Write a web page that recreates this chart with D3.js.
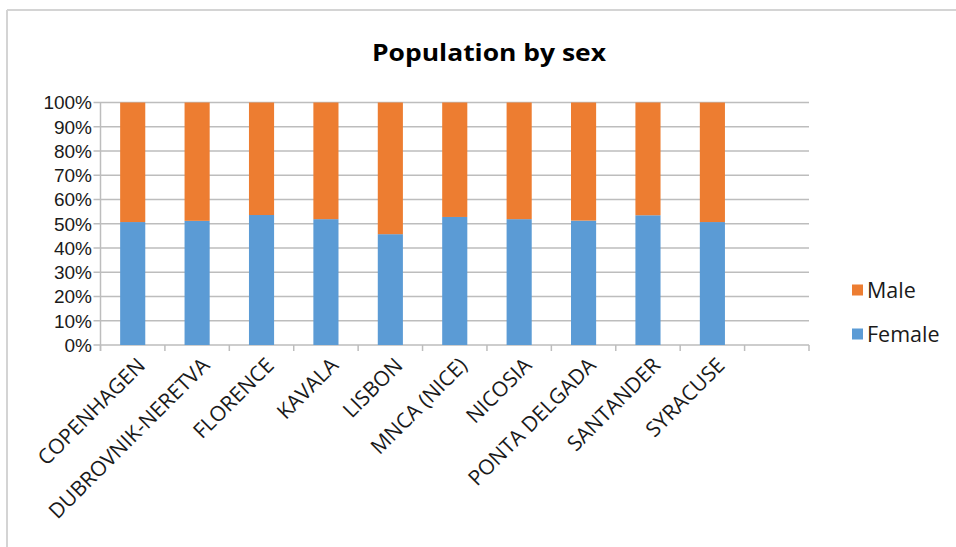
<!DOCTYPE html>
<html>
<head>
<meta charset="utf-8">
<script src="https://cdn.jsdelivr.net/npm/d3@7"></script>
<style>
  html, body { margin: 0; padding: 0; background: #fff; }
  svg { display: block; }
</style>
</head>
<body>
<svg id="chart" width="956" height="547"></svg>
<script>
const categories = ["COPENHAGEN","DUBROVNIK-NERETVA","FLORENCE","KAVALA","LISBON","MNCA (NICE)","NICOSIA","PONTA DELGADA","SANTANDER","SYRACUSE"];
const female = [50.7, 51.2, 53.6, 51.9, 45.7, 52.8, 51.9, 51.3, 53.5, 50.7];
const male   = [49.3, 48.8, 46.4, 48.1, 54.3, 47.2, 48.1, 48.7, 46.5, 49.3];
const yTicks = [0,10,20,30,40,50,60,70,80,90,100];
const seriesNames = ["Female","Male"];
const colors = {Female: "#5B9BD5", Male: "#ED7D31"};

const svg = d3.select("#chart");
const font = "'Open Sans', 'Liberation Sans', Arial, sans-serif";
const yFont = "'Liberation Sans', Arial, sans-serif";

// frame
svg.append("line").attr("x1",7).attr("y1",10).attr("x2",956).attr("y2",10).attr("stroke","#d4d4d4").attr("stroke-width",2);
svg.append("line").attr("x1",7).attr("y1",10).attr("x2",7).attr("y2",547).attr("stroke","#d4d4d4").attr("stroke-width",2);

// title
svg.append("text").attr("x",489).attr("y",61).attr("text-anchor","middle")
  .attr("font-family",font).attr("font-weight","bold")
  .attr("font-size",24).attr("textLength",234).attr("lengthAdjust","spacingAndGlyphs")
  .attr("fill","#000").text("Population by sex");

const pLeft = 100.5, pRight = 809, pTop = 102.5, pBottom = 345;
const slots = [...categories, ""];
const x = d3.scaleBand().domain(slots).range([pLeft, pRight]).paddingInner(0.61).paddingOuter(0.305);
const step = x.step();
const y = d3.scaleLinear().domain([0,100]).range([pBottom, pTop]);

// gridlines
svg.append("g").selectAll("line").data(yTicks).join("line")
  .attr("x1", pLeft - 7).attr("x2", pRight)
  .attr("y1", d => y(d)).attr("y2", d => y(d))
  .attr("stroke","#bdbdbd").attr("stroke-width",1.5);

// y axis line
svg.append("line").attr("x1",pLeft).attr("x2",pLeft).attr("y1",pTop).attr("y2",pBottom+6)
  .attr("stroke","#bdbdbd").attr("stroke-width",1.5);

// y labels
svg.append("g").selectAll("text").data(yTicks).join("text")
  .attr("x", 92).attr("y", d => y(d)).attr("dy","0.36em")
  .attr("text-anchor","end").attr("font-family",yFont).attr("font-size",19).attr("fill","#1a1a1a")
  .text(d => d + "%");

// x axis ticks at boundaries
const bounds = d3.range(slots.length + 1).map(i => pLeft + i * step);
svg.append("g").selectAll("line").data(bounds).join("line")
  .attr("x1", d => d).attr("x2", d => d).attr("y1", pBottom).attr("y2", pBottom + 6)
  .attr("stroke","#bdbdbd").attr("stroke-width",1.5);

// stacked bars
const rows = categories.map((c,i) => ({cat: c, Female: female[i], Male: male[i]}));
const stack = d3.stack().keys(seriesNames)(rows);
svg.append("g").selectAll("g").data(stack).join("g")
  .attr("fill", d => colors[d.key])
  .selectAll("rect").data(d => d).join("rect")
  .attr("x", d => x(d.data.cat)).attr("width", x.bandwidth())
  .attr("y", d => y(d[1])).attr("height", d => y(d[0]) - y(d[1]));

// x labels rotated
svg.append("g").selectAll("text").data(categories).join("text")
  .attr("transform", d => `translate(${x(d) + x.bandwidth()/2 + 3},${pBottom + 11}) rotate(-45)`)
  .attr("text-anchor","end").attr("dy","0.72em")
  .attr("font-family",font).attr("font-size",21).attr("fill","#1a1a1a")
  .text(d => d);

// legend
const legendItems = [{name:"Male", y:290}, {name:"Female", y:334}];
const lg = svg.append("g");
lg.selectAll("rect").data(legendItems).join("rect")
  .attr("x",852).attr("y",d => d.y - 5.5).attr("width",11).attr("height",11)
  .attr("fill", d => colors[d.name]);
lg.selectAll("text").data(legendItems).join("text")
  .attr("x",867).attr("y",d => d.y).attr("dy","0.36em")
  .attr("font-family",font).attr("font-size",21.5).attr("fill","#1a1a1a")
  .text(d => d.name);
</script>
</body>
</html>
